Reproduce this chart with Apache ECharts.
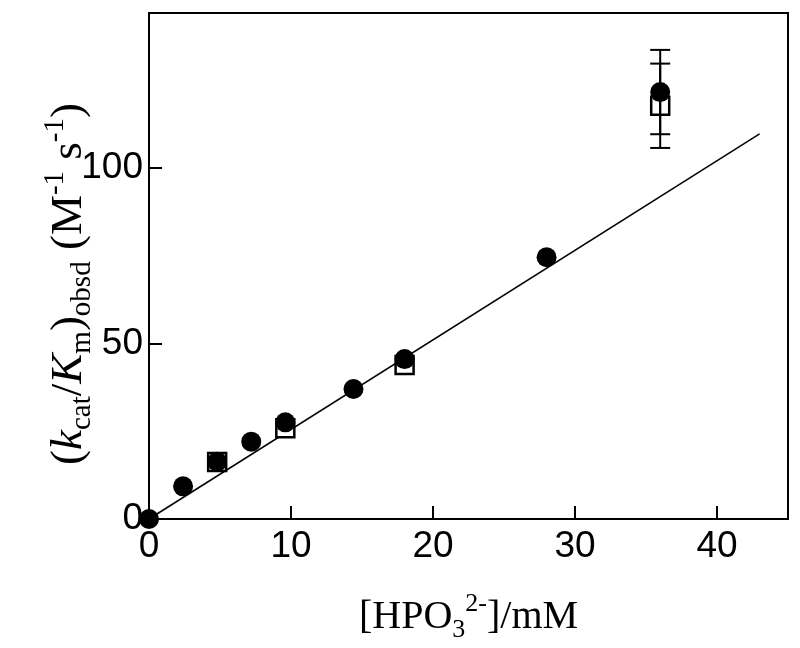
<!DOCTYPE html>
<html>
<head>
<meta charset="utf-8">
<script src="https://cdn.jsdelivr.net/npm/echarts@6/dist/echarts.min.js"></script>
<style>html,body{margin:0;padding:0;background:#fff}#c{width:800px;height:648px}</style>
</head>
<body>
<div id="c"></div>
<script>
// data
const circleX = [0, 2.4, 4.8, 7.2, 9.6, 14.4, 18, 28, 36];
const circleY = [0, 9.3, 16.3, 22.0, 27.5, 37.0, 45.5, 74.5, 121.5];
const circleErr = [0, 0, 0, 0, 0, 0, 0, 0, 12];
const squareX = [4.8, 9.6, 18, 36];
const squareY = [16.2, 25.8, 43.8, 117.6];
const squareErr = [0, 0, 0, 12];
const fitX = [0, 43];
const fitY = [0, 109.6];
const xTicks = [0, 10, 20, 30, 40];
const yTicks = [0, 50, 100];

const zip = (a, b) => a.map((v, i) => [v, b[i]]);
const errData = [];
circleX.forEach((x, i) => { if (circleErr[i] > 0) errData.push([x, circleY[i] - circleErr[i], circleY[i] + circleErr[i]]); });
squareX.forEach((x, i) => { if (squareErr[i] > 0) errData.push([x, squareY[i] - squareErr[i], squareY[i] + squareErr[i]]); });

const serif = "'Liberation Serif', 'Times New Roman', serif";
const tickFont = "'Liberation Sans', Arial, sans-serif";
const mkRich = (fs, sfs, lh) => ({
  n: { fontFamily: serif, fontSize: fs, lineHeight: lh, color: '#000' },
  i: { fontFamily: serif, fontSize: fs, lineHeight: lh, fontStyle: 'italic', color: '#000' },
  sub: { fontFamily: serif, fontSize: sfs, lineHeight: sfs, verticalAlign: 'bottom', color: '#000' },
  sup: { fontFamily: serif, fontSize: sfs, lineHeight: sfs, verticalAlign: 'top', color: '#000' }
});

const chart = echarts.init(document.getElementById('c'), null, { renderer: 'canvas' });
chart.setOption({
  animation: false,
  backgroundColor: '#fff',
  grid: { left: 149, right: 12, top: 13, bottom: 126, show: true, borderColor: '#000', borderWidth: 2, backgroundColor: 'transparent' },
  xAxis: {
    type: 'value', min: 0, max: 45, interval: 10,
    name: '{n|[HPO}{sub|3}{sup|2-}{n|]/mM}',
    nameLocation: 'middle', nameGap: 72, nameMoveOverlap: false,
    nameTextStyle: { rich: mkRich(40, 26, 52) },
    axisLine: { show: true, onZero: false, lineStyle: { color: '#000', width: 2 } },
    axisTick: { show: true, inside: true, length: 13, lineStyle: { color: '#000', width: 2 } },
    axisLabel: { show: true, showMaxLabel: false, margin: 9, color: '#000', fontSize: 37, fontFamily: tickFont,
      formatter: v => xTicks.includes(v) ? String(v) : '' },
    splitLine: { show: false }
  },
  yAxis: {
    type: 'value', min: 0, max: 144, interval: 50,
    name: '{n|(}{i|k}{sub|cat}{n|/}{i|K}{sub|m}{n|)}{sub|obsd}{n| (M}{sup|-1}{n| s}{sup|-1}{n|)}',
    nameLocation: 'middle', nameGap: 52, nameRotate: 90, nameMoveOverlap: false,
    nameTextStyle: { rich: mkRich(45, 29, 56), padding: [0, 36, 0, 0] },
    axisLine: { show: true, onZero: false, lineStyle: { color: '#000', width: 2 } },
    axisTick: { show: true, inside: true, length: 13, lineStyle: { color: '#000', width: 2 } },
    axisLabel: { show: true, showMaxLabel: false, margin: 6, color: '#000', fontSize: 37, fontFamily: tickFont,
      formatter: v => yTicks.includes(v) ? String(v) : '' },
    splitLine: { show: false }
  },
  series: [
    { type: 'line', data: zip(fitX, fitY), symbol: 'none', lineStyle: { color: '#000', width: 1.5 }, z: 1 },
    { type: 'scatter', data: zip(squareX, squareY), symbol: 'rect', symbolSize: 18,
      itemStyle: { color: '#fff', borderColor: '#000', borderWidth: 2.5, opacity: 1 }, z: 2 },
    { type: 'scatter', data: zip(circleX, circleY), symbol: 'circle', symbolSize: 20,
      itemStyle: { color: '#000', opacity: 1 }, z: 3 },
    { type: 'custom', data: errData, z: 4,
      renderItem: (params, api) => {
        const x = api.value(0);
        const lo = api.coord([x, api.value(1)]);
        const hi = api.coord([x, api.value(2)]);
        const w = 10;
        const st = { stroke: '#000', lineWidth: 2 };
        return { type: 'group', children: [
          { type: 'line', shape: { x1: lo[0], y1: lo[1], x2: hi[0], y2: hi[1] }, style: st },
          { type: 'line', shape: { x1: lo[0] - w, y1: lo[1], x2: lo[0] + w, y2: lo[1] }, style: st },
          { type: 'line', shape: { x1: hi[0] - w, y1: hi[1], x2: hi[0] + w, y2: hi[1] }, style: st }
        ]};
      }
    }
  ]
});
</script>
</body>
</html>
